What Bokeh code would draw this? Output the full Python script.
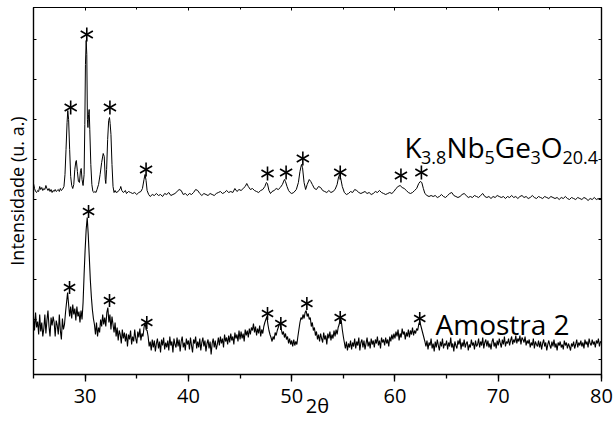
import numpy as np
from bokeh.plotting import figure
from bokeh.models import (Range1d, LinearAxis, FixedTicker, SingleIntervalTicker, Label,
                          CustomLabelingPolicy)
from bokeh.embed import file_html
from bokeh.resources import INLINE

FONT = "Open Sans"

# ---------------- data ----------------
# K3.8Nb5Ge3O20.4 reference pattern (2theta, intensity a.u.)
k_x = [25.0, 25.1, 25.2, 25.3, 25.4, 25.5, 25.6, 25.7, 25.8, 25.9, 26.0, 26.1, 26.2, 26.3, 26.4,
       26.5, 26.6, 26.7, 26.8, 26.9, 27.0, 27.1, 27.2, 27.3, 27.4, 27.5, 27.6, 27.7, 27.8, 27.95,
       28.05, 28.15, 28.25, 28.32, 28.4, 28.5, 28.6, 28.7, 28.8, 28.9, 29.0, 29.1, 29.15, 29.25,
       29.35, 29.45, 29.55, 29.62, 29.7, 29.8, 29.9, 29.97, 30.03, 30.1, 30.16, 30.22, 30.27, 30.33,
       30.39, 30.45, 30.55, 30.65, 30.75, 30.85, 30.95, 31.05, 31.15, 31.3, 31.45, 31.6, 31.75,
       31.85, 31.95, 32.0, 32.08, 32.18, 32.28, 32.36, 32.42, 32.5, 32.6, 32.7, 32.8, 32.9, 33.0,
       33.2, 33.4, 33.45, 33.55, 33.7, 33.9, 34.0, 34.2, 34.4, 34.6, 34.8, 35.0, 35.2, 35.4, 35.55,
       35.7, 35.8, 35.9, 36.0, 36.15, 36.3, 36.5, 36.7, 36.9, 37.1, 37.3, 37.5, 37.7, 37.9, 38.1,
       38.3, 38.5, 38.7, 38.9, 39.1, 39.3, 39.5, 39.7, 39.9, 40.1, 40.3, 40.5, 40.7, 40.9, 41.1,
       41.3, 41.5, 41.7, 41.9, 42.1, 42.3, 42.5, 42.7, 42.9, 43.1, 43.3, 43.5, 43.7, 43.9, 44.1,
       44.3, 44.5, 44.7, 44.9, 45.1, 45.3, 45.5, 45.65, 45.8, 46.0, 46.2, 46.4, 46.6, 46.8, 47.0,
       47.2, 47.4, 47.55, 47.65, 47.8, 47.95, 48.1, 48.3, 48.5, 48.7, 48.9, 49.1, 49.3, 49.4, 49.55,
       49.7, 49.85, 50.0, 50.2, 50.45, 50.65, 50.8, 50.95, 51.05, 51.2, 51.35, 51.5, 51.7, 51.85,
       52.0, 52.2, 52.4, 52.6, 52.8, 53.0, 53.2, 53.4, 53.6, 53.8, 54.0, 54.2, 54.4, 54.55, 54.65,
       54.75, 54.9, 55.1, 55.3, 55.5, 55.7, 55.9, 56.1, 56.3, 56.5, 56.7, 56.9, 57.1, 57.3, 57.5,
       57.7, 57.9, 58.1, 58.3, 58.5, 58.7, 58.9, 59.1, 59.3, 59.5, 59.7, 59.9, 60.1, 60.3, 60.5,
       60.7, 60.9, 61.1, 61.3, 61.5, 61.7, 61.9, 62.1, 62.3, 62.45, 62.6, 62.75, 62.9, 63.1, 63.3,
       63.5, 63.7, 63.9, 64.1, 64.3, 64.5, 64.7, 64.9, 65.1, 65.3, 65.5, 65.7, 65.9, 66.1, 66.3,
       66.5, 66.7, 66.9, 67.1, 67.3, 67.5, 67.7, 67.9, 68.1, 68.3, 68.5, 68.7, 68.9, 69.1, 69.3,
       69.5, 69.7, 69.9, 70.1, 70.3, 70.5, 70.7, 70.9, 71.1, 71.3, 71.5, 71.7, 71.9, 72.1, 72.3,
       72.5, 72.7, 72.9, 73.1, 73.3, 73.5, 73.7, 73.9, 74.1, 74.3, 74.5, 74.7, 74.9, 75.1, 75.3,
       75.5, 75.7, 75.9, 76.1, 76.3, 76.5, 76.7, 76.9, 77.1, 77.3, 77.5, 77.7, 77.9, 78.1, 78.3,
       78.5, 78.7, 78.9, 79.1, 79.3, 79.5, 79.7, 80.0]
k_y = [191, 186, 183, 182, 184, 183, 188, 185, 187, 184, 186, 185, 189, 186, 184,
       186, 183, 185, 182, 184, 183, 185, 183, 184, 185, 183, 186, 184, 185, 188,
       200, 225, 252, 264, 255, 225, 198, 189, 186, 190, 205, 213, 214, 203,
       193, 192, 204, 206, 195, 189, 200, 250, 310, 334, 320, 255, 247, 260,
       265, 245, 210, 190, 183, 182, 183, 182, 185, 190, 200, 212, 221,
       218, 195, 191, 205, 235, 254, 257, 251, 240, 210, 188, 182, 184, 182,
       183, 186, 188, 184, 182, 184, 181, 183, 182, 181, 182, 180, 182, 183, 186,
       195, 200, 194, 184, 180, 178, 180, 179, 181, 179, 180, 178, 181, 180, 182,
       179, 180, 181, 183, 185, 184, 180, 181, 179, 181, 180, 182, 185, 184, 181,
       179, 181, 180, 179, 181, 180, 179, 181, 182, 183, 181, 182, 184, 182, 183,
       182, 186, 183, 185, 184, 186, 188, 191, 188, 185, 186, 184, 183, 182, 184,
       185, 188, 192, 191, 184, 181, 183, 184, 186, 185, 187, 190, 195, 193, 188,
       184, 182, 181, 182, 185, 192, 203, 210, 207, 192, 185, 190, 195, 193,
       190, 186, 185, 188, 187, 184, 183, 182, 184, 182, 183, 185, 190, 198, 200,
       196, 188, 182, 180, 181, 183, 182, 185, 184, 182, 181, 182, 183, 181, 182,
       180, 181, 183, 182, 184, 182, 181, 180, 181, 182, 181, 183, 186, 188, 189,
       187, 186, 184, 182, 181, 182, 184, 186, 191, 193, 192, 186, 181, 179, 178,
       179, 178, 179, 177, 178, 180, 178, 177, 179, 181, 182, 179, 178, 177, 178,
       180, 181, 179, 177, 178, 177, 179, 178, 177, 179, 181, 178, 177, 178, 176,
       178, 177, 179, 178, 177, 178, 176, 178, 177, 179, 177, 178, 176, 178, 179,
       177, 178, 176, 177, 179, 177, 176, 178, 177, 176, 178, 177, 176, 178, 177,
       176, 177, 175, 177, 176, 178, 176, 175, 177, 176, 175, 177, 176, 175, 177,
       176, 174, 176, 175, 177, 175, 176, 176]

# Amostra 2 pattern, sampled every 0.1 deg from 25 deg (one row per degree)
amostra_start = 25.0
amostra_step = 0.1
amostra_y = [
    58, 44, 62, 47, 53, 40, 60, 43, 52, 38,    # 25
    46, 60, 41, 54, 64, 48, 38, 57, 49, 58,    # 26
    52, 38, 54, 49, 40, 60, 44, 35, 56, 45,    # 27
    50, 62, 72, 82, 70, 58, 68, 56, 70, 60,    # 28
    66, 54, 68, 58, 63, 52, 64, 55, 72, 100,   # 29
    125, 145, 157, 140, 118, 95, 78, 65, 56, 50,  # 30
    40, 52, 38, 47, 42, 55, 48, 60, 50, 57,    # 31
    48, 62, 67, 52, 60, 45, 58, 50, 42, 52,    # 32
    38, 47, 34, 44, 40, 31, 45, 36, 42, 33,    # 33
    41, 28, 40, 35, 44, 30, 38, 33, 45, 36,    # 34
    31, 43, 37, 46, 34, 41, 38, 47, 52, 45,    # 35
    44, 38, 28, 33, 24, 35, 27, 34, 23, 31,    # 36
    36, 26, 33, 22, 35, 29, 37, 25, 32, 27,    # 37
    34, 24, 38, 29, 33, 22, 36, 30, 27, 37,    # 38
    28, 35, 23, 33, 38, 27, 32, 24, 36, 30,    # 39
    34, 25, 37, 29, 22, 35, 31, 38, 26, 33,    # 40
    27, 36, 24, 32, 37, 28, 34, 23, 31, 35,    # 41
    26, 33, 20, 31, 36, 27, 34, 25, 30, 37,    # 42
    29, 38, 31, 36, 27, 40, 33, 37, 30, 39,    # 43
    32, 41, 34, 38, 30, 42, 36, 40, 33, 44,    # 44
    35, 43, 36, 41, 33, 45, 39, 44, 37, 46,    # 45
    40, 47, 44, 51, 42, 48, 39, 46, 41, 49,    # 46
    38, 45, 41, 48, 52, 55, 58, 50, 44, 40,    # 47
    37, 33, 38, 35, 42, 39, 44, 47, 50, 51,    # 48
    45, 40, 43, 37, 41, 35, 38, 31, 36, 30,    # 49
    34, 28, 35, 29, 33, 30, 38, 45, 52, 57,    # 50
    55, 60, 56, 62, 64, 58, 61, 55, 57, 48,    # 51
    52, 44, 47, 39, 43, 35, 40, 33, 41, 36,    # 52
    32, 42, 35, 39, 30, 41, 36, 43, 34, 40,    # 53
    36, 44, 38, 45, 40, 47, 50, 57, 54, 45,    # 54
    38, 32, 26, 33, 24, 31, 27, 34, 25, 32,    # 55
    28, 36, 26, 33, 29, 37, 24, 32, 35, 27,    # 56
    34, 25, 31, 37, 28, 33, 26, 36, 30, 34,    # 57
    27, 35, 31, 38, 29, 34, 26, 37, 32, 35,    # 58
    29, 37, 31, 35, 28, 38, 33, 40, 35, 41,    # 59
    36, 43, 38, 45, 34, 41, 37, 46, 40, 43,    # 60
    35, 42, 38, 45, 37, 44, 40, 47, 39, 44,    # 61
    41, 46, 44, 50, 53, 49, 45, 41, 37, 33,    # 62
    28, 34, 25, 32, 29, 36, 26, 31, 23, 33,    # 63
    27, 35, 29, 24, 33, 28, 36, 26, 31, 29,    # 64
    34, 25, 32, 28, 37, 27, 31, 23, 33, 29,    # 65
    26, 34, 30, 36, 25, 32, 28, 35, 27, 31,    # 66
    33, 24, 30, 27, 35, 29, 32, 25, 34, 28,    # 67
    30, 36, 27, 33, 29, 37, 26, 32, 35, 28,    # 68
    34, 27, 31, 25, 33, 36, 28, 32, 26, 34,    # 69
    29, 36, 31, 27, 35, 30, 38, 28, 33, 31,    # 70
    36, 29, 34, 38, 30, 35, 32, 39, 31, 36,    # 71
    33, 39, 30, 37, 35, 32, 38, 29, 34, 31,    # 72
    35, 27, 32, 29, 36, 26, 33, 30, 28, 34,    # 73
    27, 33, 25, 31, 35, 28, 32, 24, 30, 34,    # 74
    29, 26, 33, 28, 35, 27, 31, 24, 32, 29,    # 75
    33, 27, 30, 25, 34, 29, 32, 26, 31, 28,    # 76
    24, 31, 28, 33, 26, 30, 35, 27, 32, 29,    # 77
    34, 28, 32, 26, 35, 30, 33, 27, 36, 31,    # 78
    29, 35, 30, 33, 27, 34, 31, 36, 28, 33,    # 79
    32]                                        # 80

# peak markers (asterisks)
star_top_x = [28.6, 30.16, 32.4, 35.9, 47.66, 49.46, 51.08, 54.7, 60.58, 62.56]
star_top_y = [267, 340, 267, 205, 201, 202, 216, 202, 199, 202]
star_bot_x = [28.49, 30.33, 32.36, 35.97, 47.66, 48.95, 51.47, 54.7, 62.4]
star_bot_y = [87, 163, 74, 52, 61, 51, 71, 57, 56]

Y_TICKS = [15, 55, 95, 135, 175, 215, 255, 295, 335]

# ---------------- figure ----------------
amostra_x = amostra_start + amostra_step * np.arange(len(amostra_y))

p = figure(width=613, height=421, x_range=Range1d(25, 80), y_range=Range1d(0, 367),
           output_backend="svg", toolbar_location=None,
           min_border_left=33, min_border_right=12, min_border_top=7, min_border_bottom=47)
p.background_fill_color = "white"
p.border_fill_color = "white"
p.outline_line_color = "black"
p.outline_line_width = 1.2
p.xgrid.visible = False
p.ygrid.visible = False

p.line(k_x, k_y, line_color="black", line_width=1.0)
p.line(amostra_x, amostra_y, line_color="black", line_width=1.1)

for xs, ys, sz in ((star_top_x, star_top_y, 14), (star_bot_x, star_bot_y, 13)):
    for ang in (np.pi / 2, np.pi / 6, -np.pi / 6):
        p.scatter(xs, ys, marker="dash", size=sz, angle=ang, line_color="black", line_width=1.6)

def no_labels():
    return CustomLabelingPolicy(code="return []")

# bottom axis
xa = p.xaxis[0]
xa.ticker = SingleIntervalTicker(interval=10, num_minor_ticks=2)
xa.axis_line_width = 1.5
xa.major_tick_in = 0
xa.major_tick_out = 7
xa.minor_tick_in = 0
xa.minor_tick_out = 4
xa.major_tick_line_width = 1.3
xa.minor_tick_line_width = 1.3
xa.major_label_text_font = FONT
xa.major_label_text_font_size = "20px"
xa.major_label_text_color = "black"
xa.major_label_text_line_height = 1.0
xa.major_label_standoff = 7
xa.axis_label = "2θ"
xa.axis_label_text_font = FONT
xa.axis_label_text_font_size = "20px"
xa.axis_label_text_font_style = "normal"
xa.axis_label_text_color = "black"
xa.axis_label_text_line_height = 1.0
xa.axis_label_standoff = -14

# left axis
ya = p.yaxis[0]
ya.ticker = FixedTicker(ticks=Y_TICKS, minor_ticks=[])
ya.axis_line_width = 1.2
ya.major_tick_in = 3
ya.major_tick_out = 0
ya.major_label_policy = no_labels()
ya.major_label_text_font_size = "0px"
ya.major_label_standoff = 0
ya.axis_label = "Intensidade (u. a.)"
ya.axis_label_text_font = FONT
ya.axis_label_text_font_size = "18px"
ya.axis_label_text_font_style = "normal"
ya.axis_label_text_color = "black"
ya.axis_label_standoff = 5

# mirror axes (ticks only)
top = LinearAxis(ticker=SingleIntervalTicker(interval=10, num_minor_ticks=2),
                 major_tick_in=3, major_tick_out=0, minor_tick_in=2, minor_tick_out=0,
                 major_label_policy=no_labels(),
                 major_label_text_font_size="0px", major_label_standoff=0, axis_line_width=1.2)
p.add_layout(top, "above")
right = LinearAxis(ticker=FixedTicker(ticks=Y_TICKS, minor_ticks=[]),
                   major_tick_in=3, major_tick_out=0,
                   major_label_policy=no_labels(),
                   major_label_text_font_size="0px", major_label_standoff=0, axis_line_width=1.2)
p.add_layout(right, "right")

# ---------------- labels ----------------
def px2x(px):
    return 25 + (px - 33) * 55.0 / 568.0

def py2y(py):
    return 374 - py

ADV = {'K': 0.59, 'N': 0.748, 'b': 0.613, 'G': 0.71, 'e': 0.561, 'O': 0.78,
       '.': 0.266, '0': 0.572, '2': 0.572, '3': 0.572, '4': 0.572, '5': 0.572, '8': 0.572}
MAIN, SUB = 28, 18
pieces = [("K", False), ("3.8", True), ("Nb", False), ("5", True),
          ("Ge", False), ("3", True), ("O", False), ("20.4", True)]
cur = 404.0
for txt, is_sub in pieces:
    fs = SUB if is_sub else MAIN
    base = 157 if is_sub else 146
    p.add_layout(Label(x=px2x(cur), y=py2y(base), text=txt, text_font=FONT,
                       text_font_size=f"{fs}px", text_color="black",
                       text_baseline="alphabetic", text_align="left"))
    cur += sum(ADV[c] for c in txt) * fs

p.add_layout(Label(x=px2x(435), y=py2y(323), text="Amostra 2", text_font=FONT,
                   text_font_size="28px", text_color="black",
                   text_baseline="alphabetic", text_align="left"))

open("out.html", "w").write(file_html(p, INLINE))
